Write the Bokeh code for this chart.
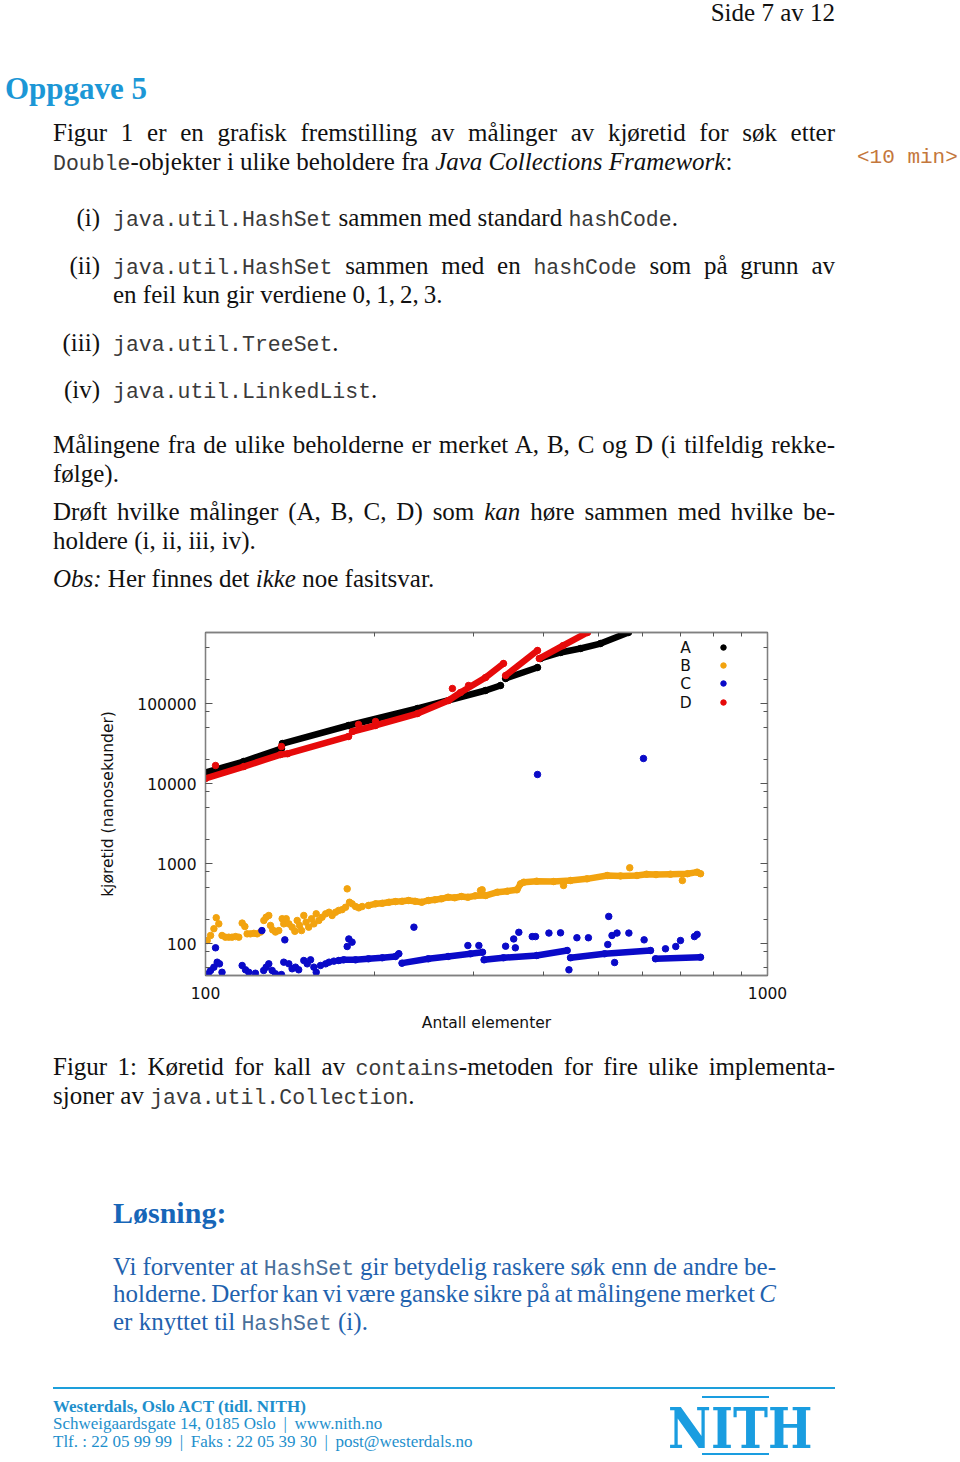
from bokeh.plotting import figure
from bokeh.models import Div, FixedTicker, LogAxis, NumeralTickFormatter, Range1d
from bokeh.layouts import column
from bokeh.embed import file_html
from bokeh.resources import INLINE
from bokeh.core.properties import value

nan = float("nan")

# ---------------- data ----------------
series_labels = ["A", "B", "C", "D"]
series_colors = ["#000000", "#f2a30f", "#0a0ac8", "#e60a0a"]

# A: continuous curve, segments separated by NaN (jumps)
A_N = [100, 116.9, 136.5, nan, 137, 179.7, 238.4, 315, 334.9, nan,
       342, 389.7, nan, 394.6, 428.3, 464.8, 504.5, 565.7]
A_t = [13700, 18840, 27400, nan, 31600, 53100, 86600, 145400, 167900, nan,
       205400, 281800, nan, 365200, 434000, 487000, 562000, 772000]

# D: continuous curve + a few outliers
D_N = [100, 117, 136, 140, 179.7, nan, 182.6, 200.7, 238.4, 270.6, 284.3, 315, 339, nan,
       342, 389.7, nan, 392.6, 432.6, 478.3]
D_t = [11550, 16300, 23000, 23600, 38700, nan, 44670, 53100, 75000, 109000, 137200, 211300, 316200, nan,
       223900, 459700, nan, 365200, 529000, 772000]
D_out_N = [104.2, 136.5, 187.2, 200.7, 275, 293.8]
D_out_t = [16790, 29000, 54640, 59570, 154000, 167900]

# B: scattered points (small N and outliers) + dense band
B_N = [100.7, 102.1, 103.5, 104.5, 105.6, 107, 108.5, 110, 111.5, 113.1,
       114.6, 116.2, 117.5, 118.6, 120.2, 121.9, 123.6, 125.3, 127, 128.2,
       129.6, 130.5, 131.7, 133.2, 135, 136.9, 137.8, 139.2, 140.7, 142.6,
       144.2, 145.6, 147, 148.2, 149.6, 151, 152.6, 154.4, 155.9, 157.4,
       159.1, 161.2, 163.6, 165.9, 168, 170.4, 172.6, 175, 177.5, 178.7,
       180.4, 182.3, 184.9, 187.4, 190, 308.6, 310.6, 433.6, 568.7, 705.6]
B_t = [109, 126, 153, 210, 176, 126, 120, 120, 120, 122,
       120, 180, 163, 132, 132, 134, 132, 139, 194, 213,
       224, 168, 148, 139, 145, 204, 176, 204, 176, 160,
       142, 194, 168, 145, 224, 185, 160, 204, 176, 235,
       194, 213, 235, 246, 224, 246, 259, 265, 284, 482,
       328, 313, 290, 279, 290, 460, 469, 531, 884, 613]
B_band_N = [195, 200.7, 206.3, 212, 217.8, 223.7, 229.8, 236.1, 242.6, 249.2,
            256, 263, 270.2, 277.6, 285.2, 293, 301.9, 315.1, 330.6, 344.3,
            358.3, 363.6, 368.4, 388.4, 416.4, 446.2, 477.4, 518.5, 547.6, 585.8,
            609.2, 633.3, 672, 720.5, 749.5, 760]
B_band_t = [299, 313, 318, 328, 334, 337, 345, 337, 328, 345,
            352, 362, 379, 373, 387, 379, 394, 398, 438, 451,
            469, 557, 584, 601, 595, 613, 643, 708, 700, 708,
            735, 727, 735, 745, 780, 745]

# C: scattered points + dense band with drops (segments separated by NaN)
C_N = [101.1, 102.1, 103.5, 104.2, 104.9, 105.9, 107, 116.2, 117.8, 119.4,
       122.7, 126, 126.9, 128.2, 129.6, 131.4, 133.2, 136.5, 137.8, 138.4,
       140.7, 142.6, 144.6, 146.5, 149.6, 151.7, 153.8, 155.9, 157.4, 160.2,
       163.6, 165.9, 169.2, 178.7, 179.9, 182.3, 234.9, 293, 306.5, 342,
       353.5, 355.9, 361, 381.4, 386.6, 408.4, 428.3, 443.3, 458, 480.1,
       519.7, 521.8, 528.8, 539.8, 534.5, 566.7, 603.2, 658.4, 686.7, 700.1,
       741.3, 749.5, 389.7, 601.6]
C_t = [41.8, 46.0, 50.6, 88.4, 58.4, 55.7, 43.7, 53.1, 46.9, 43.7,
       42.5, 145, 46.0, 50.6, 55.7, 46.0, 41.8, 40.9, 58.4, 111,
       55.7, 48.3, 50.6, 46.9, 61.3, 55.7, 62.5, 50.6, 43.7, 53.1,
       55.7, 58.4, 60.2, 91.7, 114, 104, 160, 94.4, 94.4, 92.5,
       114, 88.4, 138, 122, 122, 135, 136, 46.9, 118, 118,
       97.2, 218, 126, 135, 57.8, 135, 111, 85.9, 91.7, 109,
       122, 130, 12960, 20540]
C_band_N = [172.6, 176.2, 184.9, 195, 206.3, 217.8, 220.8, nan,
            223.7, 249.2, 270.2, 296.2, 311.1, nan,
            313.1, 339, 388.4, 440.1, nan,
            446.2, 513, 619.2, nan,
            632, 760]
C_band_t = [61.3, 62.5, 62.5, 64.4, 66.3, 68.8, 74.4, nan,
            56.8, 64.4, 68.8, 74.4, 77.9, nan,
            62.5, 66.3, 70.8, 81.8, nan,
            66.3, 74.4, 81.8, nan,
            64.4, 67.4]

x_major = [100, 1000]
x_minor = [200, 300, 400, 500, 600, 700, 800, 900]
y_major = [100, 1000, 10000, 100000]
y_minor = [20, 50, 80, 200, 500, 800, 2000, 5000, 8000, 20000, 50000, 80000, 200000, 500000, 800000]

# ---------------- chart ----------------
FONT = "DejaVu Sans"
FS = "15.5px"
GRAY = "#808080"

p = figure(width=960, height=420, x_axis_type="log", y_axis_type="log",
           x_range=Range1d(100, 1000), y_range=Range1d(39.81, 772000),
           output_backend="svg", toolbar_location=None,
           min_border_left=205, min_border_right=193, min_border_top=12, min_border_bottom=65,
           x_axis_label="Antall elementer", y_axis_label="kjøretid (nanosekunder)")
p.grid.visible = False
p.outline_line_color = GRAY
p.outline_line_width = 1.3
p.background_fill_color = "white"
p.border_fill_color = "white"


def style_axis(ax, major, minor, labels=True):
    ax.ticker = FixedTicker(ticks=major, minor_ticks=minor)
    ax.formatter = NumeralTickFormatter(format="0")
    ax.axis_line_color = GRAY
    ax.axis_line_width = 1.3
    ax.major_tick_line_color = "#555555"
    ax.minor_tick_line_color = "#555555"
    ax.major_tick_in = 7
    ax.major_tick_out = 0
    ax.minor_tick_in = 4
    ax.minor_tick_out = 0
    ax.major_label_text_font = FONT
    ax.major_label_text_font_size = FS if labels else "0px"
    ax.major_label_text_color = "#111111" if labels else None
    ax.major_label_standoff = 11 if labels else 0
    ax.axis_label_text_font = FONT
    ax.axis_label_text_font_size = FS
    ax.axis_label_text_font_style = "normal"
    ax.axis_label_text_color = "#111111"


style_axis(p.xaxis[0], x_major, x_minor)
p.xaxis[0].axis_label_standoff = 12
style_axis(p.yaxis[0], y_major, y_minor)
p.yaxis[0].major_label_standoff = 9
p.yaxis[0].axis_label_standoff = 17

top_ax = LogAxis()
style_axis(top_ax, x_major, x_minor, labels=False)
p.add_layout(top_ax, "above")
right_ax = LogAxis()
style_axis(right_ax, y_major, y_minor, labels=False)
p.add_layout(right_ax, "right")

MS = 6.5
LW = 6.5
# A
p.line(A_N, A_t, line_width=LW, color=series_colors[0], line_cap="round", line_join="round")
p.scatter(A_N, A_t, size=MS, color=series_colors[0])
# B
p.line(B_band_N, B_band_t, line_width=LW, color=series_colors[1], line_cap="round", line_join="round")
p.scatter(B_band_N, B_band_t, size=MS, color=series_colors[1])
p.scatter(B_N, B_t, size=MS, color=series_colors[1])
# C
p.line(C_band_N, C_band_t, line_width=LW, color=series_colors[2], line_cap="round", line_join="round")
p.scatter(C_band_N, C_band_t, size=MS, color=series_colors[2])
p.scatter(C_N, C_t, size=MS, color=series_colors[2])
# D
p.line(D_N, D_t, line_width=LW, color=series_colors[3], line_cap="round", line_join="round")
p.scatter(D_N, D_t, size=MS, color=series_colors[3])
p.scatter(D_out_N, D_out_t, size=MS, color=series_colors[3])

# key (text left of the symbol, gnuplot style)
key_text_x = 715
key_dot_x = 835
key_y = [501000, 298500, 177800, 102900]
p.text(x=[key_text_x] * 4, y=key_y, text=series_labels, text_font=value(FONT),
       text_font_size=FS, text_align="center", text_baseline="middle", text_color="#111111")
p.scatter(x=[key_dot_x] * 4, y=key_y, size=5.5, color=series_colors)

# ---------------- page text ----------------
SERIF = "'Liberation Serif'"
MONO = "'Liberation Mono'"
BODY = 25
MS_FS = 21.5


def tt(s, color=None, size=MS_FS):
    c = f"color:{color};" if color else "color:#3a3a3a;"
    return f'<span style="font-family:{MONO};font-size:{size}px;{c}">{s}</span>'


def frag(x, yc, html, origin_y, size=BODY, lh=30, width=None, justify=False, align=None,
         color="#111111", bold=False, family=SERIF):
    off = (lh - 1.107 * size) / 2 + 0.62 * size - 2
    top = yc - off - origin_y
    st = (f"position:absolute;left:{x:.1f}px;top:{top:.1f}px;font-family:{family};"
          f"font-size:{size}px;line-height:{lh}px;color:{color};")
    if width:
        st += f"width:{width}px;"
    if justify:
        st += "text-align:justify;text-align-last:justify;word-spacing:-5px;"
    elif align:
        st += f"text-align:{align};"
    if not justify:
        st += "white-space:nowrap;"
    if bold:
        st += "font-weight:bold;"
    return f'<div style="{st}">{html}</div>'


O1 = 0
top_parts = [
    frag(600, 13, "Side 7 av 12", O1, size=25, lh=24, width=235, align="right"),
    frag(5, 89, "Oppgave 5", O1, size=31, lh=36, bold=True, color="#1c97d6"),
    frag(53, 133, "Figur 1 er en grafisk fremstilling av målinger av kjøretid for søk etter", O1,
         width=782, justify=True),
    frag(53, 162, tt("Double") + "-objekter i ulike beholdere fra <i>Java Collections Framework</i>:", O1),
    frag(857, 155, tt("&lt;10 min&gt;", "#c4773c", 21), O1),
    frag(40, 218, "(i)", O1, width=60, align="right"),
    frag(113, 218, tt("java.util.HashSet") + " sammen med standard " + tt("hashCode") + ".", O1),
    frag(40, 266, "(ii)", O1, width=60, align="right"),
    frag(113, 266, tt("java.util.HashSet") + " sammen med en " + tt("hashCode") + " som på grunn av", O1,
         width=722, justify=True),
    frag(113, 295, "en feil kun gir verdiene 0,&#8201;1,&#8201;2,&#8201;3.", O1),
    frag(40, 343, "(iii)", O1, width=60, align="right"),
    frag(113, 343, tt("java.util.TreeSet") + ".", O1),
    frag(40, 390, "(iv)", O1, width=60, align="right"),
    frag(113, 390, tt("java.util.LinkedList") + ".", O1),
    frag(53, 445, "Målingene fra de ulike beholderne er merket A, B, C og D (i tilfeldig rekke-", O1,
         width=782, justify=True),
    frag(53, 474, "følge).", O1),
    frag(53, 512, "Drøft hvilke målinger (A, B, C, D) som <i>kan</i> høre sammen med hvilke be-", O1,
         width=782, justify=True),
    frag(53, 541, "holdere (i, ii, iii, iv).", O1),
    frag(53, 579, "<i>Obs:</i> Her finnes det <i>ikke</i> noe fasitsvar.", O1),
]
top_html = ('<div style="position:relative;width:960px;height:620px;overflow:hidden;background:white;">'
            + "".join(top_parts) + "</div>")
top_div = Div(text=top_html, width=960, height=620, margin=0)

O2 = 1040
BLUE_TXT = "#1f62ae"
FOOT = "#1e8fcc"
LOGO = "#1a9de0"
bottom_parts = [
    frag(53, 1067, "Figur 1: Køretid for kall av " + tt("contains") + "-metoden for fire ulike implementa-", O2,
         width=782, justify=True),
    frag(53, 1096, "sjoner av " + tt("java.util.Collection") + ".", O2),
    frag(113, 1213, "Løsning:", O2, size=30, lh=36, bold=True, color="#1766b8"),
    frag(113, 1267, "Vi forventer at " + tt("HashSet", "#4a6f9a") + " gir betydelig raskere søk enn de andre be-", O2,
         width=663, justify=True, color=BLUE_TXT),
    frag(113, 1294, "holderne. Derfor kan vi være ganske sikre på at målingene merket <i>C</i>", O2,
         width=663, justify=True, color=BLUE_TXT),
    frag(113, 1322, "er knyttet til " + tt("HashSet", "#4a6f9a") + " (i).", O2, color=BLUE_TXT),
    f'<div style="position:absolute;left:53px;top:{1387 - O2}px;width:782px;height:2px;background:#1d9fdb;"></div>',
    frag(53, 1406, "Westerdals, Oslo ACT (tidl. NITH)", O2, size=17, lh=18, bold=True, color=FOOT),
    frag(53, 1423, "Schweigaardsgate 14, 0185 Oslo &#8201;|&#8201; www.nith.no", O2, size=17, lh=18, color=FOOT),
    frag(53, 1441, "Tlf. : 22 05 99 99 &#8201;|&#8201; Faks : 22 05 39 30 &#8201;|&#8201; post@westerdals.no", O2,
         size=17, lh=18, color=FOOT),
    # logo
    f'<div style="position:absolute;left:668px;top:{1400 - O2}px;width:240px;height:56px;'
    f'font-family:\'DejaVu Serif\';font-weight:bold;font-size:56px;line-height:56px;color:{LOGO};'
    f'transform:scaleX(0.84);transform-origin:0 0;white-space:nowrap;">NITH</div>',
    f'<div style="position:absolute;left:702px;top:{1396 - O2}px;width:67px;height:2px;background:{LOGO};"></div>',
    f'<div style="position:absolute;left:702px;top:{1453 - O2}px;width:67px;height:2px;background:{LOGO};"></div>',
]
bottom_html = ('<div style="position:relative;width:960px;height:422px;overflow:hidden;background:white;">'
               + "".join(bottom_parts) + "</div>")
bottom_div = Div(text=bottom_html, width=960, height=422, margin=0)

layout = column(top_div, p, bottom_div, spacing=0)
open("out.html", "w").write(file_html(layout, INLINE))
